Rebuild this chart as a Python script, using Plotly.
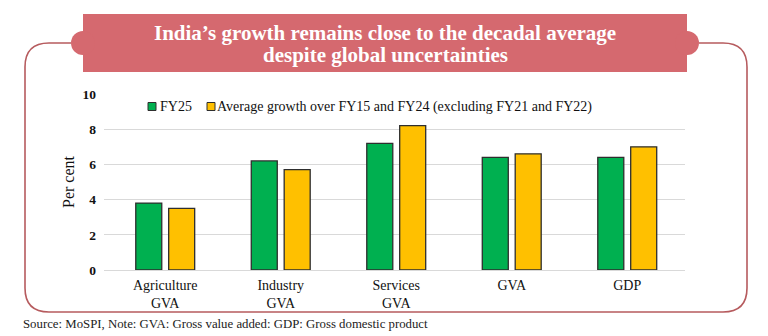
import plotly.graph_objects as go

# Growth figures (per cent)
categories = ["Agriculture<br>GVA", "Industry<br>GVA", "Services<br>GVA", "GVA", "GDP"]
fy25 = [3.8, 6.2, 7.2, 6.4, 6.4]
avg_fy15_fy24 = [3.5, 5.7, 8.2, 6.6, 7.0]
series_names = ["FY25", "Average growth over FY15 and FY24 (excluding FY21 and FY22)"]
y_ticks = [0, 2, 4, 6, 8, 10]

GREEN = "#00B050"
YELLOW = "#FFC000"
EDGE = "#2E2E2E"
BANNER = "#D5696F"
FRAME = "#B65B5E"
SERIF = "Liberation Serif"

W, H = 768, 336
L, R, T, B = 104, 83, 94, 66
PW, PH = W - L - R, H - T - B


def px(x):
    return (x - L) / PW


def py(y):
    return (H - B - y) / PH


fig = go.Figure()
fig.add_trace(go.Bar(
    x=categories, y=fy25, name=series_names[0],
    marker=dict(color=GREEN, line=dict(color=EDGE, width=1.3)),
))
fig.add_trace(go.Bar(
    x=categories, y=avg_fy15_fy24, name=series_names[1],
    marker=dict(color=YELLOW, line=dict(color=EDGE, width=1.3)),
))

shapes = []
# rounded frame around the chart, opening at the banner
frame_path = (
    f"M {px(71)},{py(43)} L {px(49)},{py(43)} "
    f"Q {px(25)},{py(43)} {px(25)},{py(67)} "
    f"L {px(25)},{py(288)} Q {px(25)},{py(312)} {px(49)},{py(312)} "
    f"L {px(723)},{py(312)} Q {px(747)},{py(312)} {px(747)},{py(288)} "
    f"L {px(747)},{py(67)} Q {px(747)},{py(43)} {px(723)},{py(43)} "
    f"L {px(699)},{py(43)}"
)
shapes.append(dict(type="path", xref="paper", yref="paper", path=frame_path,
                   line=dict(color=FRAME, width=1.6)))
# title banner with rounded tabs on both sides
shapes.append(dict(type="rect", xref="paper", yref="paper",
                   x0=px(83), x1=px(687), y0=py(72), y1=py(14),
                   fillcolor=BANNER, line=dict(width=0)))
for cx in (83, 687):
    shapes.append(dict(type="circle", xref="paper", yref="paper",
                       x0=px(cx - 12), x1=px(cx + 12), y0=py(55), y1=py(31),
                       fillcolor=BANNER, line=dict(width=0)))
# legend swatches
legend_y = 106.5
for x0, col in ((148, GREEN), (207, YELLOW)):
    shapes.append(dict(type="rect", xref="paper", yref="paper",
                       x0=px(x0), x1=px(x0 + 8), y0=py(legend_y + 4), y1=py(legend_y - 4),
                       fillcolor=col, line=dict(color=EDGE, width=1)))

annotations = [
    dict(text="India’s growth remains close to the decadal average",
         x=px(385), y=py(33), xref="paper", yref="paper", showarrow=False,
         xanchor="center", yanchor="middle",
         font=dict(family=SERIF, size=21, color="white", weight="bold")),
    dict(text="despite global uncertainties",
         x=px(385), y=py(55), xref="paper", yref="paper", showarrow=False,
         xanchor="center", yanchor="middle",
         font=dict(family=SERIF, size=21, color="white", weight="bold")),
    dict(text=series_names[0], x=px(158), y=py(legend_y), xref="paper", yref="paper",
         showarrow=False, xanchor="left", yanchor="middle",
         font=dict(family=SERIF, size=14, color="#111")),
    dict(text=series_names[1], x=px(215), y=py(legend_y), xref="paper", yref="paper",
         showarrow=False, xanchor="left", yanchor="middle",
         font=dict(family=SERIF, size=14, color="#111")),
    dict(text="Source: MoSPI, Note: GVA: Gross value added: GDP: Gross domestic product",
         x=px(21), y=py(324), xref="paper", yref="paper", showarrow=False,
         xanchor="left", yanchor="middle",
         font=dict(family=SERIF, size=12.8, color="#222")),
]

fig.update_layout(
    width=W, height=H,
    margin=dict(l=L, r=R, t=T, b=B, pad=0),
    paper_bgcolor="white", plot_bgcolor="white",
    barmode="group", bargap=0.43, bargroupgap=0.21,
    showlegend=False,
    shapes=shapes, annotations=annotations,
    xaxis=dict(
        type="category", range=[-0.53, 4.5], showgrid=False, zeroline=False,
        showline=False, ticks="", ticklabelstandoff=5,
        tickfont=dict(family=SERIF, size=14, color="#111"),
    ),
    yaxis=dict(
        range=[0, 10], tickvals=y_ticks, showgrid=True, gridcolor="#D9D9D9",
        gridwidth=1.3, zeroline=True, zerolinecolor="#D9D9D9", zerolinewidth=1.3,
        showline=False, ticks="", ticklabelstandoff=7,
        tickfont=dict(family=SERIF, size=13.5, color="#111", weight="bold"),
        title=dict(text="Per cent", standoff=3,
                   font=dict(family=SERIF, size=16, color="#111")),
    ),
)

fig.write_html("out.html")
